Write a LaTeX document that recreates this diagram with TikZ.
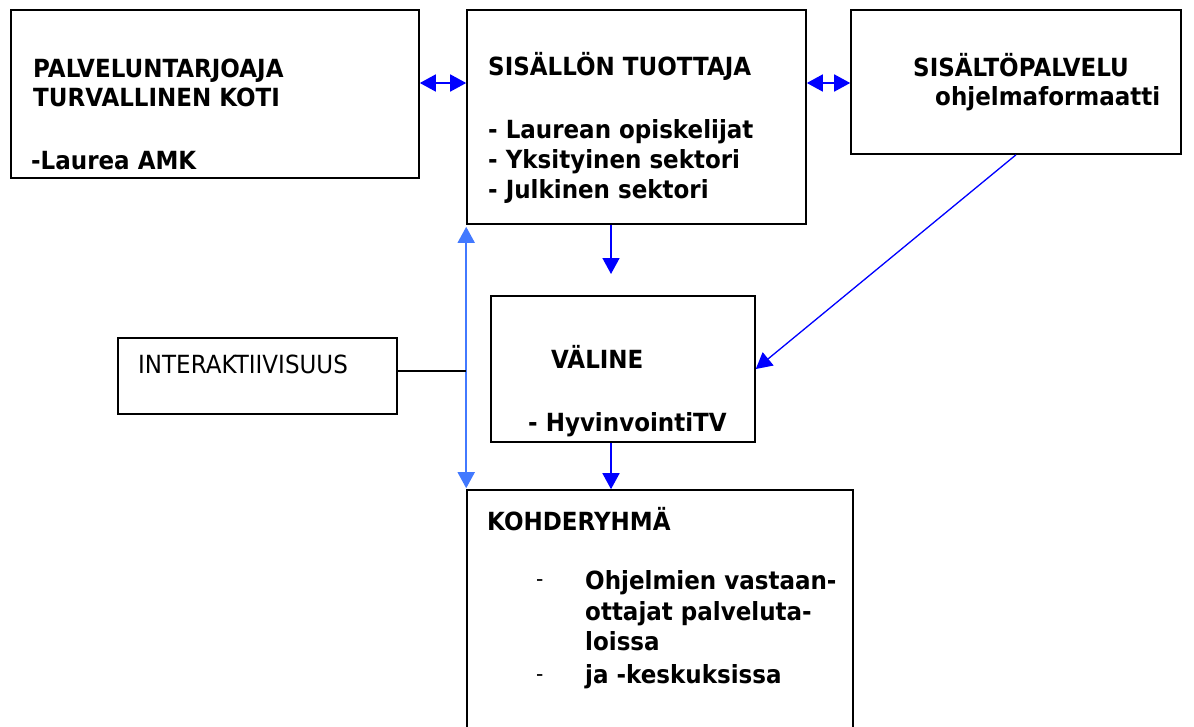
\documentclass[tikz,border=0pt]{standalone}
\usepackage{fontspec}
\setmainfont{DejaVu Sans}[FakeStretch=0.92]
\usetikzlibrary{arrows.meta}
\begin{document}
\begin{tikzpicture}[x=1pt,y=-1pt,
  box/.style={draw=black,line width=1.6pt,rectangle,inner sep=0pt},
  txt/.style={anchor=base west,inner sep=0pt,font=\fontsize{25}{29}\selectfont\bfseries},
  txtn/.style={anchor=base west,inner sep=0pt,font=\fontsize{25}{29}\selectfont},
  dsh/.style={anchor=base west,inner sep=0pt,font=\fontsize{22}{26}\selectfont},
  tip/.style={-{Triangle[length=16pt,width=17pt]}},
  dtip/.style={{Triangle[length=16pt,width=17pt]}-{Triangle[length=16pt,width=17pt]}},
  arr/.style={draw={rgb,255:red,0;green,0;blue,255},fill={rgb,255:red,0;green,0;blue,255},line width=1.6pt},
  larr/.style={draw={rgb,255:red,66;green,121;blue,255},fill={rgb,255:red,66;green,121;blue,255},line width=1.6pt}]
\clip (0,0) rectangle (1194,726);
\fill[white] (0,0) rectangle (1194,726);
% boxes
\node[box,minimum width=408pt,minimum height=168pt] (A) at (215,94) {};
\node[box,minimum width=339pt,minimum height=214pt] (B) at (636.5,117) {};
\node[box,minimum width=330pt,minimum height=144pt] (C) at (1016,82) {};
\node[box,minimum width=279pt,minimum height=76pt] (D) at (257.5,376) {};
\node[box,minimum width=264pt,minimum height=146pt] (E) at (623,369) {};
\node[box,minimum width=386pt,minimum height=260pt] (F) at (660,620) {};
% texts
\node[txt] (a1) at (33,77) {PALVELUNTARJOAJA};
\node[txt] (a2) at (33,106) {TURVALLINEN KOTI};
\node[txt] (a3) at (31,169) {-Laurea AMK};
\node[txt] (b1) at (488,75) {SISÄLLÖN TUOTTAJA};
\node[txt] (b2) at (488,138) {- Laurean opiskelijat};
\node[txt] (b3) at (488,168) {- Yksityinen sektori};
\node[txt] (b4) at (488,198) {- Julkinen sektori};
\node[txt] (c1) at (913,76) {SISÄLTÖPALVELU};
\node[txt] (c2) at (935,105) {ohjelmaformaatti};
\node[txtn] (d1) at (138,373) {INTERAKTIIVISUUS};
\node[txt] (e1) at (551,368) {VÄLINE};
\node[txt] (e2) at (528,431) {- HyvinvointiTV};
\node[txt] (f1) at (487,530) {KOHDERYHMÄ};
\node[dsh] (fd1) at (536,586) {-};
\node[txt] (f2) at (585,589) {Ohjelmien vastaan-};
\node[txt] (f3) at (585,620) {ottajat palveluta-};
\node[txt] (f4) at (585,650) {loissa};
\node[dsh] (fd2) at (536,681) {-};
\node[txt] (f5) at (585,683) {ja -keskuksissa};
% helper coordinates
\coordinate (yAB) at (0,83);
\coordinate (xBE) at (611,0);
\coordinate (bEend) at (611,274);
\coordinate (yD) at (0,371);
% connectors
\draw[arr,dtip] (A.east |- yAB) -- (B.west |- yAB);
\draw[arr,dtip] (B.east |- yAB) -- (C.west |- yAB);
\draw[arr,tip] (B.south -| xBE) -- (bEend);
\draw[arr,tip] (E.south -| xBE) -- (F.north -| xBE);
\draw[arr,line width=1.3pt,tip] (C.south) -- (E.east);
\draw[larr,dtip,shorten <=2pt,shorten >=1pt] (B.south west) -- (F.north west);
\draw[black,line width=1.3pt] (D.east |- yD) -- (B.south west |- yD);
\end{tikzpicture}
\end{document}
